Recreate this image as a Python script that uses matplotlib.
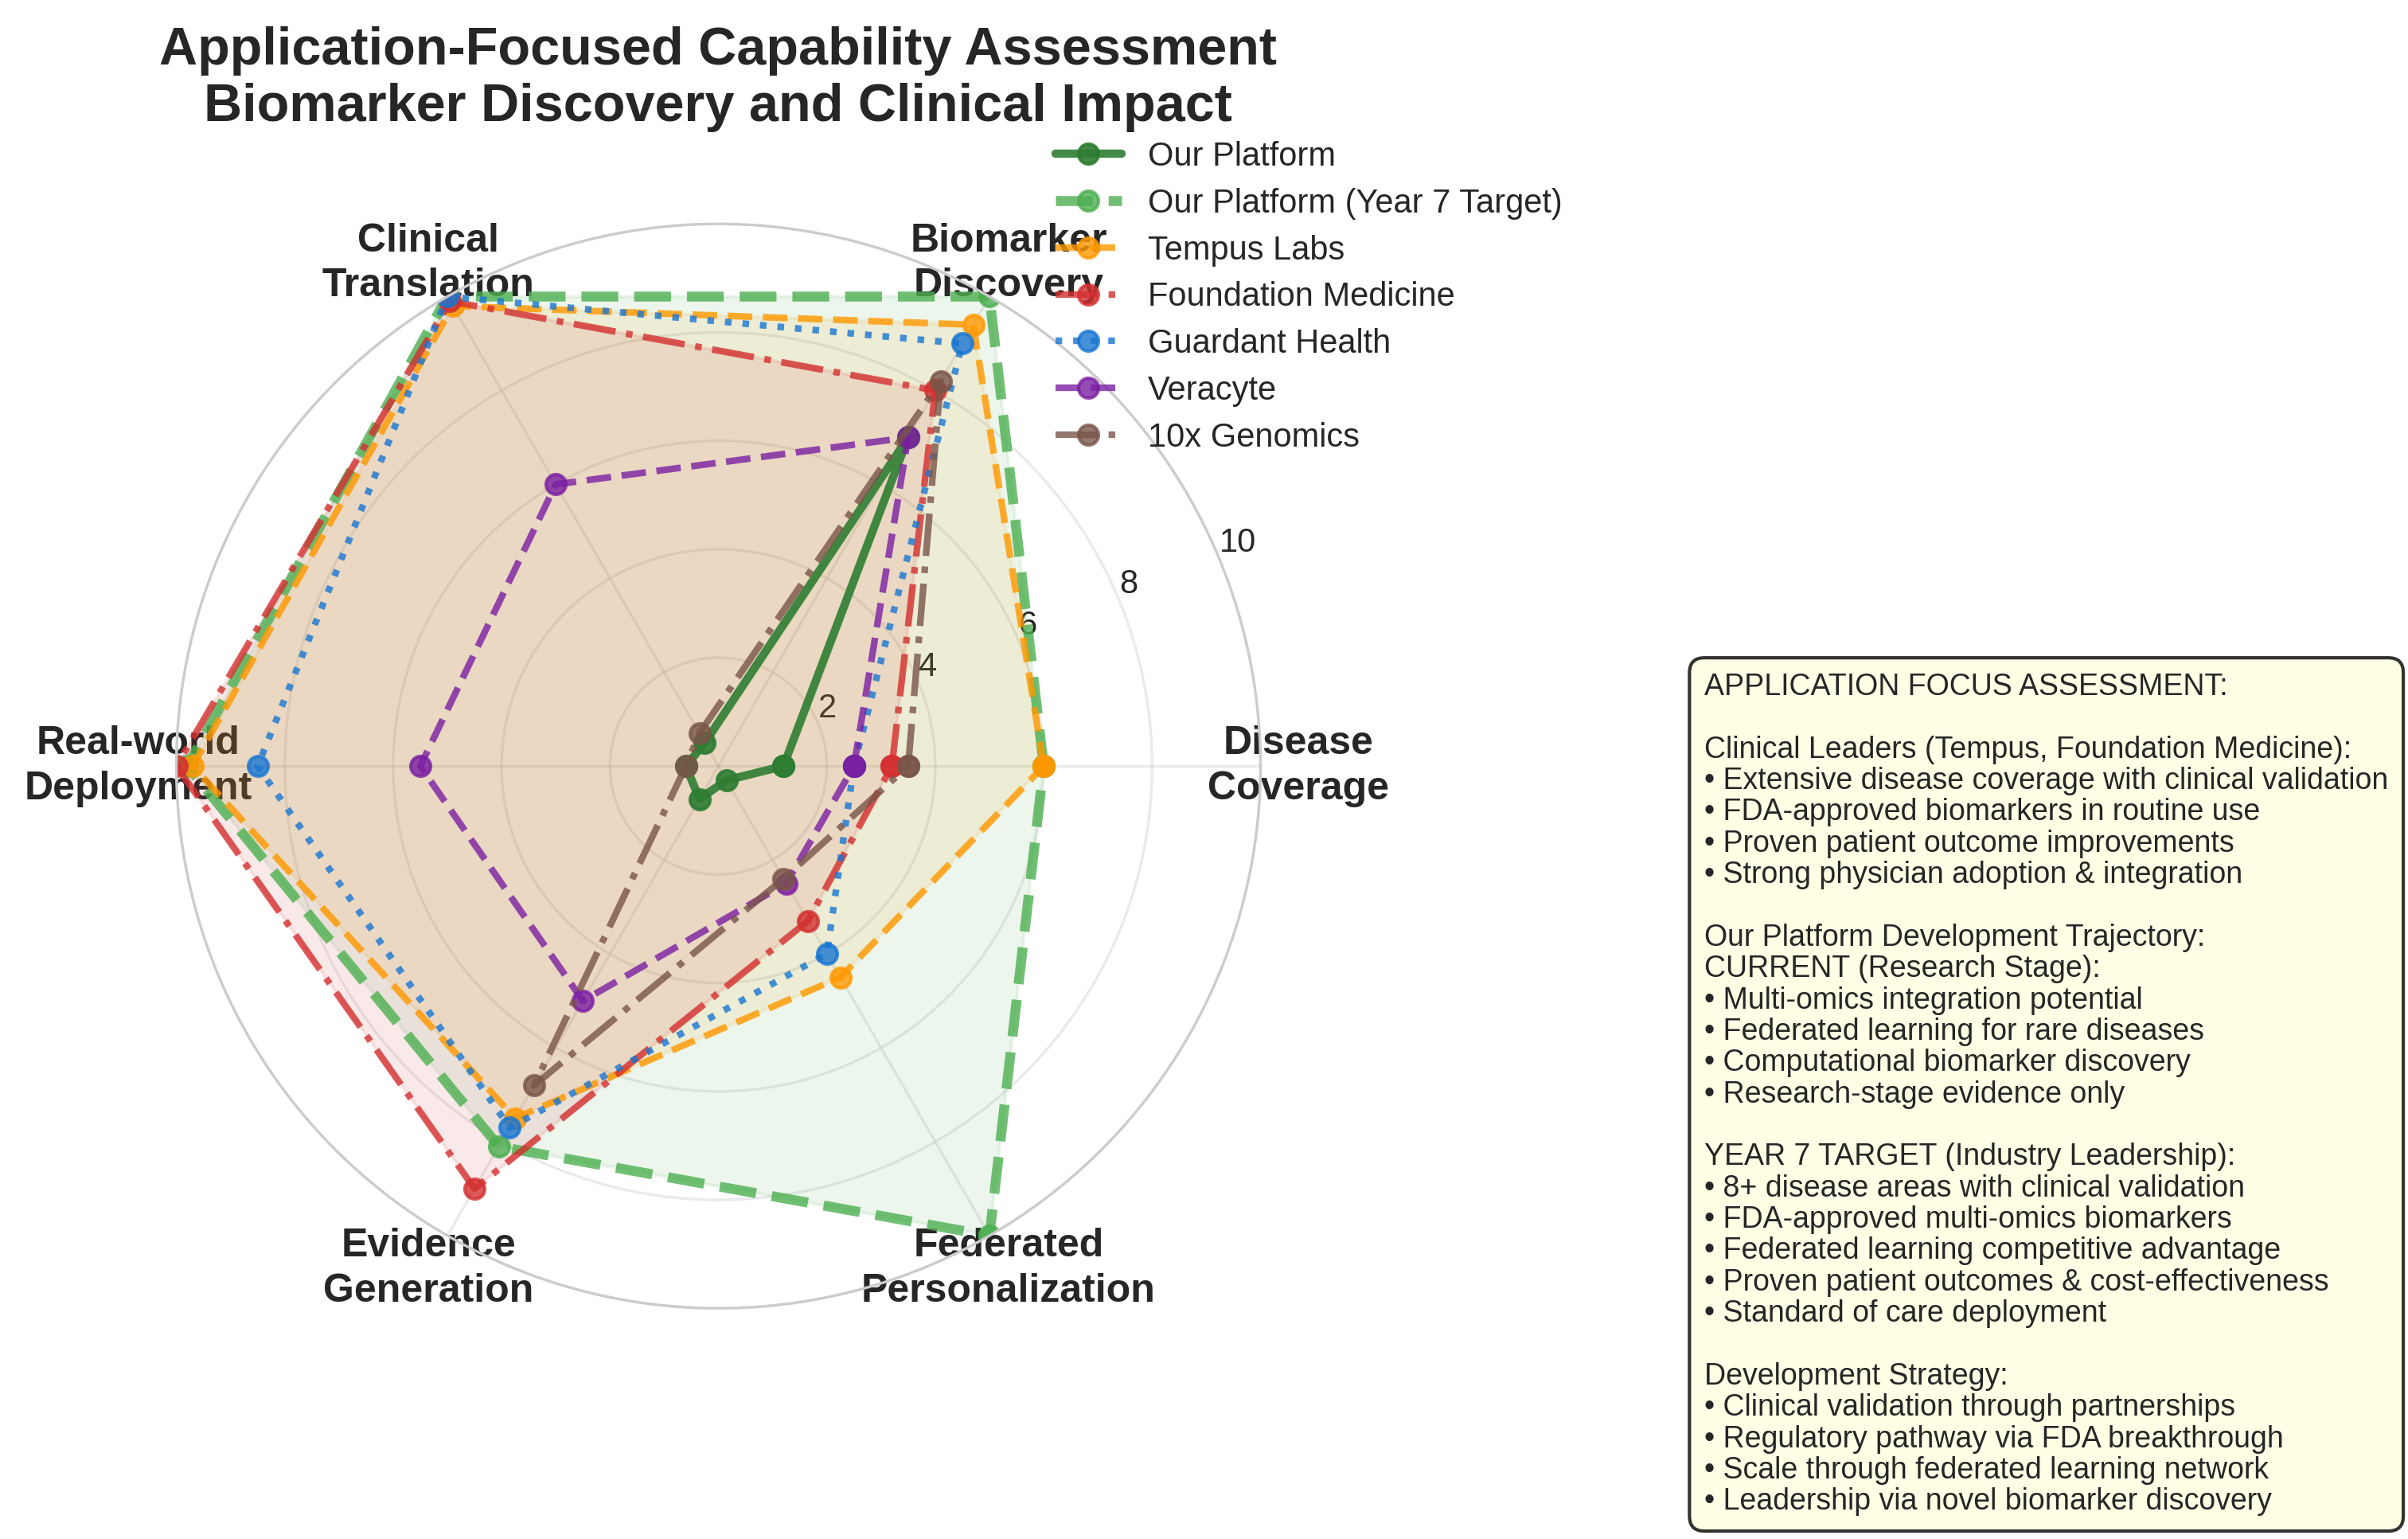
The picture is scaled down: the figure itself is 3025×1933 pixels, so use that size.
import numpy as np
import matplotlib
matplotlib.use('Agg')
import matplotlib.pyplot as plt
import seaborn as sns

sns.set_style('whitegrid')
plt.rcParams['font.family'] = ['Liberation Sans', 'DejaVu Sans']

# capability dimensions (counter-clockwise from 3 o'clock)
categories = ['Disease\nCoverage', 'Biomarker\nDiscovery', 'Clinical\nTranslation',
              'Real-world\nDeployment', 'Evidence\nGeneration', 'Federated\nPersonalization']

# scores 0-10
our_platform = [1.2, 7.0, 0.5, 0.6, 0.7, 0.3]
our_year7 = [6.0, 10.0, 10.0, 9.8, 8.1, 10.0]
tempus = [6.0, 9.4, 9.8, 9.7, 7.5, 4.5]
foundation = [3.2, 8.0, 9.9, 10.0, 9.0, 3.3]
guardant = [2.5, 9.0, 10.0, 8.5, 7.7, 4.0]
veracyte = [2.5, 7.0, 6.0, 5.5, 5.0, 2.5]
tenx = [3.5, 8.2, 0.7, 0.6, 6.8, 2.4]

names = ['Our Platform', 'Our Platform (Year 7 Target)', 'Tempus Labs',
         'Foundation Medicine', 'Guardant Health', 'Veracyte', '10x Genomics']
series = [our_platform, our_year7, tempus, foundation, guardant, veracyte, tenx]
colors = ['#2e7d32', '#4caf50', '#ff9800', '#d32f2f', '#1976d2', '#7b1fa2', '#795548']
styles = ['-', '--', '--', '-.', ':', '--', '-.']
widths = [2.5, 3, 2, 2, 2, 2, 2]
alphas = [0.9, 0.8, 0.8, 0.8, 0.8, 0.8, 0.8]
filled = [False, True, True, True, False, False, False]

rticks = [2, 4, 6, 8, 10]

angles = np.linspace(0, 2 * np.pi, len(categories), endpoint=False).tolist()
angles += angles[:1]

fig = plt.figure(figsize=(3025 / 300, 1933 / 300), dpi=300)
ax = fig.add_axes([0.0732, 0.1499, 0.4503, 0.7046], projection='polar')

for name, vals, c, ls, lw, a, f in zip(names, series, colors, styles, widths, alphas, filled):
    v = vals + vals[:1]
    ax.plot(angles, v, linestyle=ls, linewidth=lw, color=c, marker='o',
            markersize=6, alpha=a, label=name)
    if f:
        ax.fill(angles, v, color=c, alpha=0.1)

ax.set_xticks(angles[:-1])
ax.set_xticklabels(categories, fontsize=12, fontweight='bold')
for lbl in ax.get_xticklabels():
    lbl.set_linespacing(1.3)
ax.tick_params(axis='x', pad=1)
ax.set_ylim(0, 10)
ax.set_yticks(rticks)
ax.set_yticklabels([str(t) for t in rticks], fontsize=10)
ax.grid(True, alpha=0.4)

ax.legend(loc='upper left', bbox_to_anchor=(0.4258, 0.9278),
          bbox_transform=fig.transFigure, fontsize=10, frameon=False,
          labelspacing=0.45)

fig.text(0.2983, 0.983,
         'Application-Focused Capability Assessment\nBiomarker Discovery and Clinical Impact',
         ha='center', va='top', fontsize=16, fontweight='bold', linespacing=1.2)

notes = ("APPLICATION FOCUS ASSESSMENT:\n\n"
         "Clinical Leaders (Tempus, Foundation Medicine):\n"
         "• Extensive disease coverage with clinical validation\n"
         "• FDA-approved biomarkers in routine use\n"
         "• Proven patient outcome improvements\n"
         "• Strong physician adoption & integration\n\n"
         "Our Platform Development Trajectory:\n"
         "CURRENT (Research Stage):\n"
         "• Multi-omics integration potential\n"
         "• Federated learning for rare diseases\n"
         "• Computational biomarker discovery\n"
         "• Research-stage evidence only\n\n"
         "YEAR 7 TARGET (Industry Leadership):\n"
         "• 8+ disease areas with clinical validation\n"
         "• FDA-approved multi-omics biomarkers\n"
         "• Federated learning competitive advantage\n"
         "• Proven patient outcomes & cost-effectiveness\n"
         "• Standard of care deployment\n\n"
         "Development Strategy:\n"
         "• Clinical validation through partnerships\n"
         "• Regulatory pathway via FDA breakthrough\n"
         "• Scale through federated learning network\n"
         "• Leadership via novel biomarker discovery")
fig.text(0.7078, 0.5629, notes, ha='left', va='top', fontsize=9, linespacing=1.12,
         bbox=dict(boxstyle='round,pad=0.5', facecolor='lightyellow', alpha=0.8,
                   edgecolor='black', linewidth=1))

fig.savefig('out.png', dpi=300)
